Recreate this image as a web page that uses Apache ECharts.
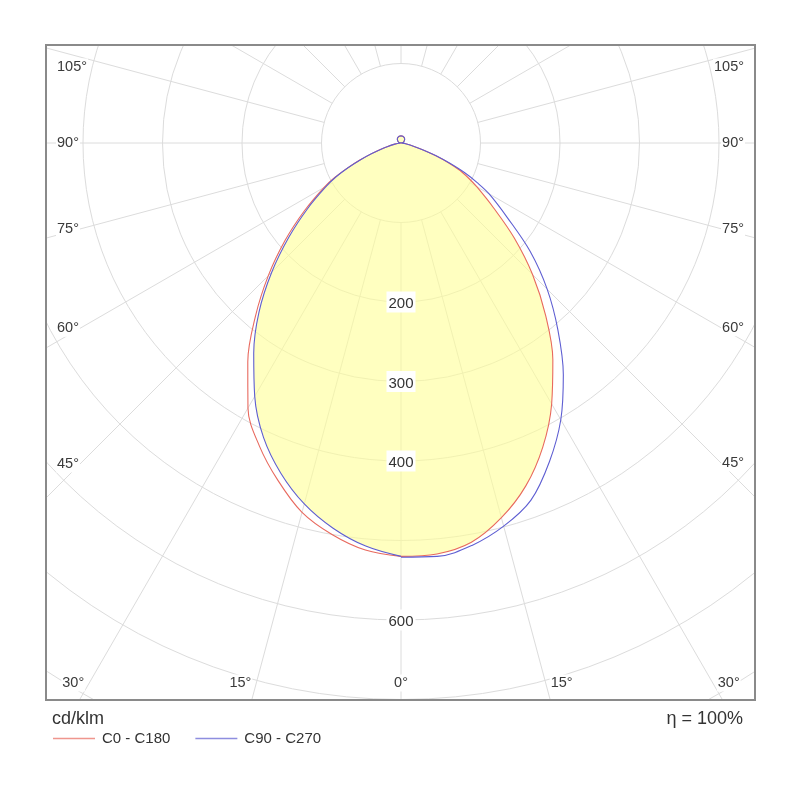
<!DOCTYPE html>
<html>
<head>
<meta charset="utf-8">
<script src="https://cdn.jsdelivr.net/npm/echarts@6/dist/echarts.min.js"></script>
<style>
html,body{margin:0;padding:0;background:#fff;}
#chart{width:800px;height:800px;}
</style>
</head>
<body>
<div id="chart"></div>
<script>
// ---------------- DATA ----------------
// gamma angles (deg) at which intensities were read
const gammas = [0,5,10,15,20,25,30,35,40,45,50,55,60,62.5,65,67.5,70,72.5,75,80,85,90,105,120,135,150,165,180];
// intensities in cd/klm
const c180 = [520,514,500,481,452,421,385,336,285,236,190,148,112,94,74,56,40,28,19,8,2,0,2.5,4.5,6.5,8,8.8,9];
const c0   = [520,519,510,488,459,422,379,333,283,234,186,142,110,96,82,64,46,30,17,6,2,0,2.5,4.5,6.5,8,8.8,9];
const c270 = [520,509,492,470,442,409,368,323,278,230,184,143,108,92,73,55,39,27,18,8,2,0,2.5,4.5,6.5,8,8.8,9];
const c90  = [521,522,514,499,478,442,402,356,307,260,212,163,128,108,88,66,47,30,17,6,2,0,2.5,4.5,6.5,8,8.8,9];

const seriesNames = ['C0 - C180', 'C90 - C270'];
const radiusMin = 100, radiusMax = 900, radiusStep = 100;
const radiusLabels = [200, 300, 400, 600];
const angleStep = 15;
const sideAngleLabels = [105, 90, 75, 60, 45];
const bottomAngleLabels = [30, 15, 0];
const unitText = 'cd/klm';
const efficiencyText = 'η = 100%';

// ---------------- LAYOUT ----------------
const frame = {left: 46, top: 45, right: 755, bottom: 700};
const center = [401, 143];
const pxPerUnit = 0.795;
const FONT = '"Liberation Sans", Arial, sans-serif';
const gridColor = '#dcdcdc';
const redColor = '#e8695e';
const blueColor = '#5e5ed2';

// one closed plane: left half (theta = gamma), right half (theta = 360 - gamma)
function plane(left, right) {
  const pts = [];
  gammas.forEach((g, i) => pts.push([left[i], g]));
  for (let i = gammas.length - 1; i >= 0; i--) {
    pts.push([right[i], 360 - gammas[i]]);
  }
  return pts;
}
const fillLeft = c180.map((v, i) => Math.min(v, c270[i]));
const fillRight = c0.map((v, i) => Math.min(v, c90[i]));

// angle labels around the frame
const labelInset = 34, labelPad = 10, bottomRow = 17, topClamp = 22;
const angleTexts = [];
function addText(x, y, text, align) {
  angleTexts.push({
    type: 'text', x: x, y: y, z: 12,
    style: {text: text, fill: '#3a3a3a', font: '14.5px ' + FONT, align: align, verticalAlign: 'middle',
            backgroundColor: '#fff', padding: [1, 1]}
  });
}
sideAngleLabels.forEach(g => {
  const rad = g * Math.PI / 180;
  [-1, 1].forEach(side => {
    const xLine = side < 0 ? frame.left + labelInset : frame.right - labelInset;
    const dx = Math.abs(xLine - center[0]);
    const y = Math.max(frame.top + topClamp, center[1] + dx * Math.cos(rad) / Math.sin(rad));
    if (side < 0) addText(frame.left + labelPad, y, g + '°', 'left');
    else addText(frame.right - labelPad, y, g + '°', 'right');
  });
});
bottomAngleLabels.forEach(g => {
  const rad = g * Math.PI / 180;
  const y = frame.bottom - bottomRow;
  const dx = (y - center[1]) * Math.tan(rad);
  if (g === 0) { addText(center[0], y, g + '°', 'center'); return; }
  addText(center[0] - dx - 4, y, g + '°', 'right');
  addText(center[0] + dx + 4, y, g + '°', 'left');
});

const outerPx = radiusMax * pxPerUnit;
const innerPx = radiusMin * pxPerUnit;

const chart = echarts.init(document.getElementById('chart'), null, {renderer: 'canvas'});
chart.setOption({
  animation: false,
  backgroundColor: '#fff',
  textStyle: {fontFamily: FONT},
  polar: [
    {center: center, radius: [innerPx, outerPx]},
    {center: center, radius: [0, outerPx]}
  ],
  angleAxis: [
    {polarIndex: 0, type: 'value', min: 0, max: 360, interval: angleStep, startAngle: -90, clockwise: true,
     axisLine: {show: false}, axisTick: {show: false}, axisLabel: {show: false},
     splitLine: {show: true, lineStyle: {color: gridColor, width: 1}}, z: 0},
    {polarIndex: 1, type: 'value', min: 0, max: 360, startAngle: -90, clockwise: true, show: false}
  ],
  radiusAxis: [
    {polarIndex: 0, type: 'value', min: radiusMin, max: radiusMax, interval: radiusStep, z: 1,
     axisLine: {show: false}, axisTick: {show: false},
     splitLine: {show: true, lineStyle: {color: gridColor, width: 1}},
     axisLabel: {
       margin: 0, align: 'center', verticalAlign: 'middle',
       formatter: v => radiusLabels.indexOf(v) >= 0 ? '{b|' + v + '}' : '',
       rich: {b: {fontSize: 15, color: '#333', backgroundColor: '#fff', padding: [5, 2, 1, 2], fontFamily: FONT}}
     }},
    {polarIndex: 1, type: 'value', min: 0, max: radiusMax, show: false}
  ],
  legend: {
    data: seriesNames, left: 53, top: 731, padding: 0, itemWidth: 42, itemHeight: 1.5, itemGap: 25, z: 12,
    icon: 'rect', itemStyle: {opacity: 0.7},
    textStyle: {fontSize: 15, color: '#333', fontFamily: FONT, padding: [0, 0, 0, 2]}
  },
  series: [
    {type: 'line', coordinateSystem: 'polar', polarIndex: 1, name: 'fill', data: plane(fillLeft, fillRight),
     symbol: 'none', silent: true, z: 1, smooth: 0.35, lineStyle: {width: 0, opacity: 0},
     areaStyle: {color: 'rgba(255,255,150,0.6)', opacity: 1}},
    {type: 'line', coordinateSystem: 'polar', polarIndex: 1, name: seriesNames[0], data: plane(c180, c0),
     symbol: 'none', z: 3, smooth: 0.35, lineStyle: {color: redColor, width: 1.1}, itemStyle: {color: redColor}},
    {type: 'line', coordinateSystem: 'polar', polarIndex: 1, name: seriesNames[1], data: plane(c270, c90),
     symbol: 'none', z: 3, smooth: 0.35, lineStyle: {color: blueColor, width: 1.1}, itemStyle: {color: blueColor}}
  ],
  graphic: [
    // masks outside the frame
    {type: 'rect', z: 10, shape: {x: 0, y: 0, width: 800, height: frame.top}, style: {fill: '#fff'}},
    {type: 'rect', z: 10, shape: {x: 0, y: frame.bottom, width: 800, height: 800 - frame.bottom}, style: {fill: '#fff'}},
    {type: 'rect', z: 10, shape: {x: 0, y: 0, width: frame.left, height: 800}, style: {fill: '#fff'}},
    {type: 'rect', z: 10, shape: {x: frame.right, y: 0, width: 800 - frame.right, height: 800}, style: {fill: '#fff'}},
    // frame
    {type: 'rect', z: 11, shape: {x: frame.left, y: frame.top, width: frame.right - frame.left, height: frame.bottom - frame.top},
     style: {fill: 'none', stroke: '#8a8a8a', lineWidth: 2}},
    {type: 'text', z: 12, x: frame.left + 6, y: frame.bottom + 19,
     style: {text: unitText, fill: '#333', font: '18px ' + FONT, align: 'left', verticalAlign: 'middle'}},
    {type: 'text', z: 12, x: frame.right - 12, y: frame.bottom + 19,
     style: {text: efficiencyText, fill: '#333', font: '18px ' + FONT, align: 'right', verticalAlign: 'middle'}}
  ].concat(angleTexts)
});
</script>
</body>
</html>
